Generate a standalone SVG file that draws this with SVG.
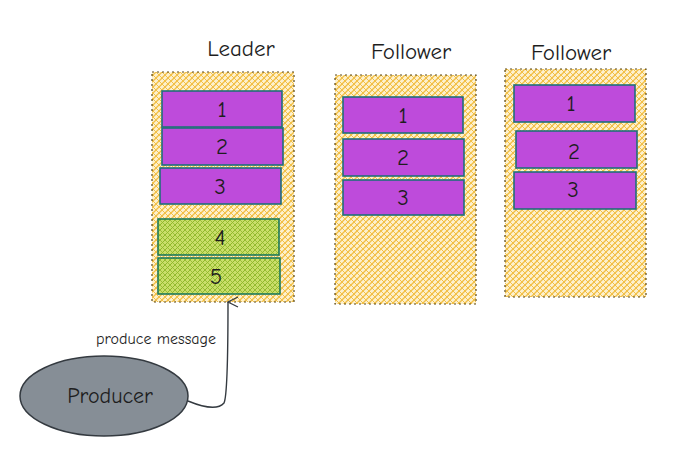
<svg xmlns="http://www.w3.org/2000/svg" width="680" height="451" viewBox="0 0 680 451">
<defs>
<pattern id="hatchY" patternUnits="userSpaceOnUse" width="6" height="6">
<rect width="6" height="6" fill="#fdf1cf"/>
<path d="M0 6 L6 0 M-1 1 L1 -1 M5 7 L7 5" stroke="#f2bf45" stroke-width="1.3"/>
<path d="M0 0 L6 6 M-1 5 L1 7 M5 -1 L7 1" stroke="#f2bf45" stroke-width="1"/>
</pattern>
<pattern id="hatchG" patternUnits="userSpaceOnUse" width="5" height="5">
<rect width="5" height="5" fill="#c9de6a"/>
<path d="M0 5 L5 0 M-1 1 L1 -1 M4 6 L6 4" stroke="#8fb82a" stroke-width="1"/>
<path d="M0 0 L5 5 M-1 4 L1 6 M4 -1 L6 1" stroke="#8fb82a" stroke-width="0.8"/>
</pattern>
<marker id="arr" viewBox="0 0 12 12" refX="6" refY="1" markerWidth="12" markerHeight="12" orient="auto-start-reverse" markerUnits="userSpaceOnUse">
<path d="M1 11 L6 1 L11 11" fill="none" stroke="#343a40" stroke-width="1.2"/>
</marker>
</defs>
<style>
.ctr{fill:url(#hatchY);stroke:#5c4a1a;stroke-width:1.2;stroke-dasharray:2 3}
.msg{fill:#be4bdb;stroke:#1f6f7a;stroke-width:1.6}
.new{fill:url(#hatchG);stroke:#1f7a5a;stroke-width:1.6}
.t{font-family:"Comic Neue","Lato","Liberation Sans",sans-serif;fill:#1e1e1e;text-anchor:middle}
.title{font-size:23px}
.num{font-size:23px}
</style>
<rect width="680" height="451" fill="#ffffff"/>
<g id="leader">
<text class="t title" x="241" y="56">Leader</text>
<rect class="ctr" x="152" y="72" width="142" height="230"/>
<g id="l1"><rect class="msg" x="162" y="91" width="120" height="36"/><text class="t num" x="222" y="117">1</text></g>
<g id="l2"><rect class="msg" x="162" y="128" width="121" height="37"/><text class="t num" x="222" y="154">2</text></g>
<g id="l3"><rect class="msg" x="160" y="168" width="121" height="36"/><text class="t num" x="220" y="194">3</text></g>
<g id="l4"><rect class="new" x="158" y="219" width="121" height="36"/><text class="t num" x="220" y="245">4</text></g>
<g id="l5"><rect class="new" x="158" y="258" width="122" height="36"/><text class="t num" x="216" y="284">5</text></g>
</g>
<g id="follower1">
<text class="t title" x="411" y="59">Follower</text>
<rect class="ctr" x="335" y="75" width="141" height="229"/>
<g id="f1a"><rect class="msg" x="343" y="97" width="120" height="36"/><text class="t num" x="403" y="123">1</text></g>
<g id="f1b"><rect class="msg" x="343" y="139" width="121" height="37"/><text class="t num" x="403" y="165">2</text></g>
<g id="f1c"><rect class="msg" x="343" y="180" width="121" height="35"/><text class="t num" x="403" y="205">3</text></g>
</g>
<g id="follower2">
<text class="t title" x="571" y="60">Follower</text>
<rect class="ctr" x="505" y="69" width="141" height="228"/>
<g id="f2a"><rect class="msg" x="514" y="85" width="121" height="37"/><text class="t num" x="571" y="111">1</text></g>
<g id="f2b"><rect class="msg" x="516" y="131" width="121" height="37"/><text class="t num" x="574" y="159">2</text></g>
<g id="f2c"><rect class="msg" x="514" y="172" width="122" height="37"/><text class="t num" x="573" y="197">3</text></g>
</g>
<g id="producer">
<ellipse cx="104" cy="396" rx="84" ry="40" fill="#868e96" stroke="#343a40" stroke-width="1.5"/>
<text class="t" x="110" y="403" font-size="22px">Producer</text>
</g>
<g id="connectors">
<path d="M188 401 C205 408 218 410 224 403 C228 395 228 340 228 302" fill="none" stroke="#343a40" stroke-width="1.4" marker-end="url(#arr)"/>
<text class="t" x="156" y="344" font-size="16px">produce message</text>
</g>
</svg>
